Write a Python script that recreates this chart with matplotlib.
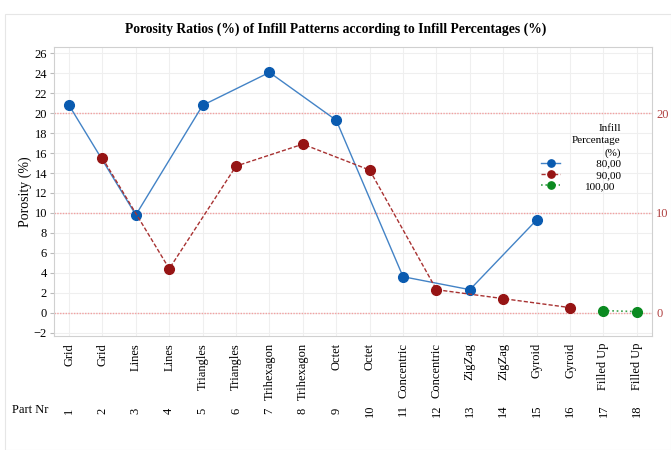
import matplotlib.pyplot as plt
import matplotlib.transforms as mtransforms
from matplotlib.patches import Rectangle
import numpy as np

plt.rcParams['font.family'] = ['Liberation Serif', 'DejaVu Serif']

# Porosity per printed part, grouped by infill percentage
patterns = ['Grid', 'Grid', 'Lines', 'Lines', 'Triangles', 'Triangles',
            'Trihexagon', 'Trihexagon', 'Octet', 'Octet', 'Concentric', 'Concentric',
            'ZigZag', 'ZigZag', 'Gyroid', 'Gyroid', 'Filled Up', 'Filled Up']
part_nr = list(range(1, 19))

parts_80 = [1, 3, 5, 7, 9, 11, 13, 15]
poro_80 = [20.8, 9.8, 20.8, 24.1, 19.3, 3.6, 2.3, 9.3]
parts_90 = [2, 4, 6, 8, 10, 12, 14, 16]
poro_90 = [15.5, 4.4, 14.7, 16.9, 14.3, 2.3, 1.4, 0.5]
parts_100 = [17, 18]
poro_100 = [0.2, 0.1]

ref_lines = [0, 10, 20]

fig = plt.figure(figsize=(6.71, 4.5), dpi=100)
fig.patches.append(Rectangle((0.008, 0.0), 0.992, 0.97, transform=fig.transFigure,
                             fill=False, edgecolor='#e6e6e6', linewidth=0.8))
ax = fig.add_axes([0.0805, 0.2533, 0.891, 0.6423])

for y in ref_lines:
    ax.axhline(y, color='#f2a0a0', linestyle=(0, (1, 1)), linewidth=1.0, zorder=1)

ax.plot(parts_80, poro_80, color='#4383c6', linestyle='-', linewidth=1.0,
        marker='o', markersize=7, markerfacecolor='#0a5bb0', markeredgecolor='#0a5bb0',
        label='\u2007\u200780,00', zorder=3)
ax.plot(parts_90, poro_90, color='#a83232', linestyle=(0, (3, 1.5)), linewidth=1.0,
        marker='o', markersize=7, markerfacecolor='#961414', markeredgecolor='#961414',
        label='\u2007\u200790,00', zorder=3)
ax.plot(parts_100, poro_100, color='#3aa04a', linestyle=':', linewidth=1.2,
        marker='o', markersize=7, markerfacecolor='#0a8a20', markeredgecolor='#0a8a20',
        label='100,00', zorder=3)

ax.set_xlim(0.55, 18.45)
ax.set_ylim(-2.35, 26.65)
ax.set_yticks(np.arange(-2, 27, 2))
ax.set_xticks(part_nr)
ax.set_xticklabels(patterns, rotation=90, fontsize=9)
ax.tick_params(axis='y', labelsize=9, length=3, color='#bbbbbb', pad=2)
ax.tick_params(axis='x', length=0, pad=5)
ax.grid(True, color='#efefef', linewidth=0.8, zorder=0)
ax.set_axisbelow(True)
for s in ax.spines.values():
    s.set_color('#d0d0d0')
ax.set_ylabel('Porosity (%)', fontsize=10)
ax.yaxis.set_label_coords(-0.037, 0.5)

# right-hand reference axis
ax2 = ax.twinx()
ax2.set_ylim(ax.get_ylim())
ax2.set_yticks(ref_lines)
ax2.tick_params(axis='y', labelsize=9, labelcolor='#b04040', length=0, pad=3)
for s in ax2.spines.values():
    s.set_visible(False)

# part numbers row
trans = mtransforms.blended_transform_factory(ax.transData, fig.transFigure)
for p in part_nr:
    ax.text(p, 0.088, str(p), rotation=90, ha='center', va='center',
            fontsize=9, transform=trans)
fig.text(0.018, 0.088, 'Part Nr', ha='left', va='center', fontsize=9)

leg = ax2.legend(*ax.get_legend_handles_labels(),
                 title='Infill\nPercentage\n(%)', loc='upper right',
                 bbox_to_anchor=(0.948, 0.735), frameon=False, fontsize=8,
                 title_fontsize=8, handlelength=1.7, labelspacing=0.12,
                 borderpad=0, borderaxespad=0, handletextpad=2.2, markerscale=0.75,
                 alignment='right')
leg.get_title().set_multialignment('right')
leg.get_title().set_linespacing(1.45)

fig.suptitle('Porosity Ratios (%) of Infill Patterns according to Infill Percentages (%)',
             fontsize=9.8, fontweight='bold', y=0.95)

fig.savefig('out.png', dpi=100)
